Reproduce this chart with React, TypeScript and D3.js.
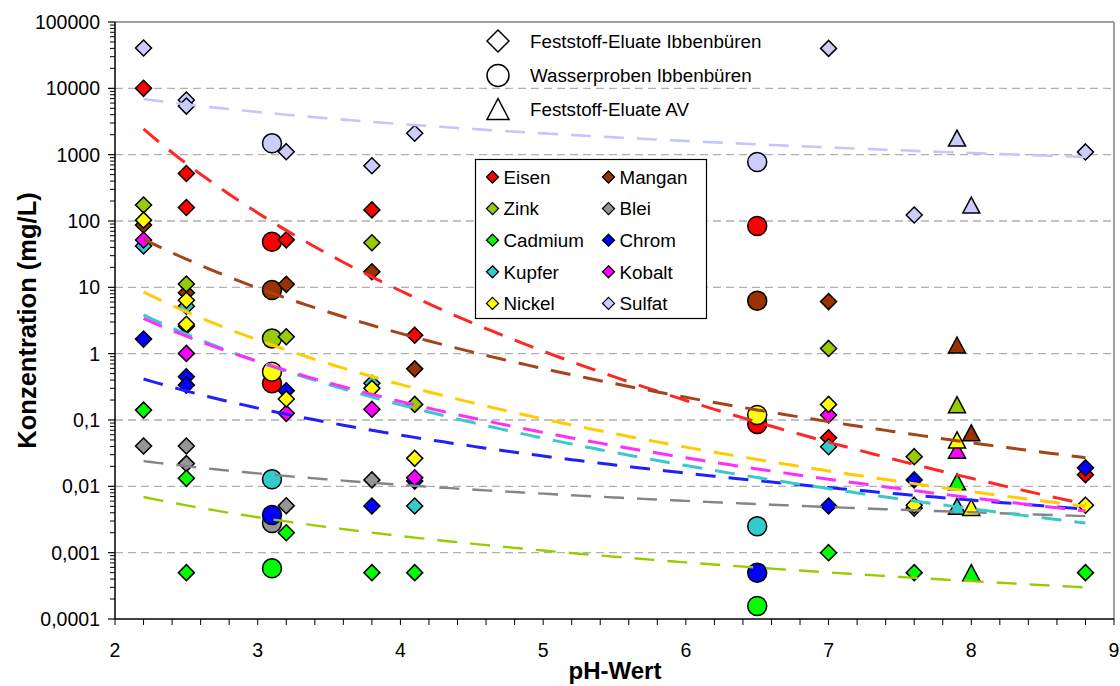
import React from 'react';
import * as d3 from 'd3';

// Elemente in Legendenreihenfolge
const ELEMENTS = ['Eisen', 'Mangan', 'Zink', 'Blei', 'Cadmium', 'Chrom', 'Kupfer', 'Kobalt', 'Nickel', 'Sulfat'];
const MARKER_COLORS = ['#ff0000', '#993300', '#99cc00', '#969696', '#00ff00', '#0000ff', '#33cccc', '#ff00ff', '#ffff00', '#ccccff'];

// Feststoff-Eluate Ibbenbüren (Rauten)
const eluatePH = [2.2, 2.5, 2.5, 3.2, 3.8, 4.1, 7.0, 7.6, 8.8];
const eluateEisen = [10000, 520, 160, 52, 147, 1.9, 0.054, null, 0.015];
const eluateMangan = [87, 8.3, null, 11.1, 17.2, 0.59, 6.1, null, null];
const eluateZink = [174, 11.2, null, 1.8, 47, 0.172, 1.2, 0.028, null];
const eluateBlei = [0.0405, 0.0405, 0.022, 0.0051, 0.0125, null, null, 0.0047, null];
const eluateCadmium = [0.141, 0.0132, 0.0005, 0.002, 0.0005, 0.0005, 0.001, 0.0005, 0.0005];
const eluateChrom = [1.66, 0.45, 0.336, 0.276, 0.00505, 0.012, 0.00505, 0.0125, 0.019];
const eluateKupfer = [42, 5.2, 2.6, null, 0.357, 0.00505, 0.0395, null, null];
const eluateKobalt = [51.6, 1.01, null, 0.126, 0.145, 0.0135, 0.119, null, null];
const eluateNickel = [103, 6.4, 2.77, 0.207, 0.3, 0.0264, 0.172, 0.0052, 0.0052];
const eluateSulfat = [40500, 6650, 5400, 1110, 682, 2100, 40000, 123, 1100];

// Wasserproben Ibbenbüren (Kreise)
const wasserPH = [3.1, 3.1, 6.5, 6.5];
const wasserEisen = [48.7, 0.357, 84, 0.087];
const wasserMangan = [9.1, null, 6.3, null];
const wasserZink = [1.7, null, null, null];
const wasserBlei = [0.0028, null, null, null];
const wasserCadmium = [0.00058, null, 0.000157, null];
const wasserChrom = [0.0037, null, 0.0005, null];
const wasserKupfer = [0.0128, null, 0.0025, null];
const wasserKobalt = [null, null, null, null];
const wasserNickel = [0.535, null, 0.119, null];
const wasserSulfat = [1480, null, 776, null];

// Feststoff-Eluate AV (Dreiecke)
const avPH = [7.9, 8.0];
const avEisen = [null, null];
const avMangan = [1.35, 0.064];
const avZink = [0.17, null];
const avBlei = [null, null];
const avCadmium = [0.0117, 0.0005];
const avChrom = [null, null];
const avKupfer = [0.005, null];
const avKobalt = [0.035, null];
const avNickel = [0.05, 0.0048];
const avSulfat = [1780, 174];

// Potenz-Trendlinien: Wert bei pH 2,2 und pH 8,8
const trendFrom = 2.2;
const trendTo = 8.8;
const trendStart = [2440, 53.5, null, 0.024, 0.0069, 0.415, 3.83, 3.4, 8.5, 6900];
const trendEnd = [0.0054, 0.027, null, 0.00356, 0.0003, 0.00455, 0.0028, 0.00425, 0.005, 923];
const TREND_COLORS = ['#ff2626', '#a5441a', null, '#858585', '#99cc00', '#2020ff', '#3cc8c8', '#ff2eff', '#ffcc00', '#c6c6ff'];
const TREND_WIDTHS = [3, 3, 0, 2.4, 2.4, 3, 3, 3, 3, 2.6];

const xTicks = [2, 3, 4, 5, 6, 7, 8, 9];
const yTickValues = [0.0001, 0.001, 0.01, 0.1, 1, 10, 100, 1000, 10000, 100000];
const yTickLabels = ['0,0001', '0,001', '0,01', '0,1', '1', '10', '100', '1000', '10000', '100000'];

const eluateRows = [eluateEisen, eluateMangan, eluateZink, eluateBlei, eluateCadmium, eluateChrom, eluateKupfer, eluateKobalt, eluateNickel, eluateSulfat];
const wasserRows = [wasserEisen, wasserMangan, wasserZink, wasserBlei, wasserCadmium, wasserChrom, wasserKupfer, wasserKobalt, wasserNickel, wasserSulfat];
const avRows = [avEisen, avMangan, avZink, avBlei, avCadmium, avChrom, avKupfer, avKobalt, avNickel, avSulfat];

const FONT = '"Liberation Sans", Arial, sans-serif';

const W = 1120;
const H = 686;
const margin = { top: 22, right: 6, bottom: 67, left: 115 };

const x = d3.scaleLinear().domain([2, 9]).range([margin.left, W - margin.right]);
const y = d3.scaleLog().domain([0.0001, 100000]).range([H - margin.bottom, margin.top]);

const diamond = (cx: number, cy: number, r: number) =>
  `M${cx},${cy - r}L${cx + r},${cy}L${cx},${cy + r}L${cx - r},${cy}Z`;
const triangle = (cx: number, cy: number, w: number, h: number) =>
  `M${cx},${cy - h / 2}L${cx + w / 2},${cy + h / 2}L${cx - w / 2},${cy + h / 2}Z`;

const App: React.FC = () => {
  const x0 = x(2);
  const x1 = x(9);
  const yTop = y(100000);
  const yBot = y(0.0001);

  // kleine Ticks
  const minorX = d3.range(2, 9.001, 0.2);
  const minorY: number[] = [];
  for (let e = -4; e < 5; e++) {
    for (let m = 2; m < 10; m++) minorY.push(m * Math.pow(10, e));
  }

  const line = d3.line<number>()
    .x(d => x(d))
    .curve(d3.curveLinear);

  const trendPaths = ELEMENTS.map((_, i) => {
    const a0 = trendStart[i];
    const a1 = trendEnd[i];
    if (a0 == null || a1 == null) return null;
    const b = Math.log(a1 / a0) / Math.log(trendTo / trendFrom);
    const xs = d3.range(trendFrom, trendTo + 0.001, 0.05);
    return line.y(d => y(a0 * Math.pow(d / trendFrom, b)))(xs);
  });

  return (
    <svg width={W} height={H} style={{ position: 'absolute', left: 0, top: 0, background: '#fff' }} fontFamily={FONT}>
      {/* Gitterlinien */}
      {yTickValues.slice(1, -1).map(v => (
        <line key={'g' + v} x1={x0} x2={x1} y1={y(v)} y2={y(v)} stroke="#b0b0b0" strokeWidth={1.3} strokeDasharray="8,5" />
      ))}
      <line x1={x0} x2={x1} y1={yTop} y2={yTop} stroke="#808080" strokeWidth={1.5} />
      <line x1={x1} x2={x1} y1={yTop} y2={yBot} stroke="#808080" strokeWidth={1.5} />

      {/* Achsen */}
      <line x1={x0} x2={x0} y1={yTop} y2={yBot} stroke="#000" strokeWidth={1.5} />
      <line x1={x0} x2={x1} y1={yBot} y2={yBot} stroke="#000" strokeWidth={1.5} />
      {minorX.map(v => (
        <line key={'mx' + v} x1={x(v)} x2={x(v)} y1={yBot} y2={yBot + 6} stroke="#000" strokeWidth={1} />
      ))}
      {minorY.map(v => (
        <line key={'my' + v} x1={x0 - 5} x2={x0} y1={y(v)} y2={y(v)} stroke="#000" strokeWidth={1} />
      ))}
      {yTickValues.map((v, i) => (
        <g key={'yt' + v}>
          <line x1={x0 - 7} x2={x0} y1={y(v)} y2={y(v)} stroke="#000" strokeWidth={1.2} />
          <text x={x0 - 15} y={y(v) + 7} textAnchor="end" fontSize={19.5} fill="#000">{yTickLabels[i]}</text>
        </g>
      ))}
      {xTicks.map(v => (
        <text key={'xt' + v} x={x(v)} y={yBot + 38} textAnchor="middle" fontSize={19.5} fill="#000">{v}</text>
      ))}

      {/* Achsentitel */}
      <text x={615} y={679} textAnchor="middle" fontSize={24} fontWeight="bold">pH-Wert</text>
      <text transform={`translate(36,${(yTop + yBot) / 2}) rotate(-90)`} textAnchor="middle" fontSize={25.5} fontWeight="bold">
        Konzentration (mg/L)
      </text>

      {/* Wasserproben */}
      {wasserRows.map((row, i) =>
        row.map((v, j) => v == null ? null : (
          <circle key={`w${i}-${j}`} cx={x(wasserPH[j])} cy={y(v)} r={9.5} fill={MARKER_COLORS[i]} stroke="#000" strokeWidth={1.5} />
        ))
      )}
      {/* Feststoff-Eluate Ibbenbüren */}
      {eluateRows.map((row, i) =>
        row.map((v, j) => v == null ? null : (
          <path key={`e${i}-${j}`} d={diamond(x(eluatePH[j]), y(v), 8)} fill={MARKER_COLORS[i]} stroke="#000" strokeWidth={1.5} />
        ))
      )}
      {/* Feststoff-Eluate AV */}
      {avRows.map((row, i) =>
        row.map((v, j) => v == null ? null : (
          <path key={`a${i}-${j}`} d={triangle(x(avPH[j]), y(v), 17, 16)} fill={MARKER_COLORS[i]} stroke="#000" strokeWidth={1.5} strokeLinejoin="miter" />
        ))
      )}

      {/* Trendlinien */}
      {trendPaths.map((p, i) => p == null ? null : (
        <path key={'t' + i} d={p} fill="none" stroke={TREND_COLORS[i]!} strokeWidth={TREND_WIDTHS[i]} strokeDasharray="20,13" />
      ))}

      {/* Legende Probenart */}
      <g>
        <path d={diamond(498, 41, 11)} fill="#fff" stroke="#000" strokeWidth={1.5} />
        <text x={530} y={48} fontSize={18.8}>Feststoff-Eluate Ibbenbüren</text>
        <circle cx={498} cy={75.5} r={11} fill="#fff" stroke="#000" strokeWidth={1.5} />
        <text x={530} y={82} fontSize={18.8}>Wasserproben Ibbenbüren</text>
        <path d={triangle(498, 109, 22, 21)} fill="#fff" stroke="#000" strokeWidth={1.5} />
        <text x={530} y={116} fontSize={18.8}>Feststoff-Eluate AV</text>
      </g>

      {/* Legende Elemente */}
      <g>
        <rect x={475.5} y={159.5} width={231} height={159} fill="#fff" stroke="#000" strokeWidth={1.2} />
        {ELEMENTS.map((name, i) => {
          const col = i % 2;
          const row = Math.floor(i / 2);
          const mx = col === 0 ? 492.5 : 608.5;
          const my = 177 + row * 31.6;
          return (
            <g key={'l' + name}>
              <path d={diamond(mx, my, 6)} fill={MARKER_COLORS[i]} stroke="#000" strokeWidth={1.3} />
              <text x={mx + 11} y={my + 6.8} fontSize={18.8}>{name}</text>
            </g>
          );
        })}
      </g>
    </svg>
  );
};

export default App;
